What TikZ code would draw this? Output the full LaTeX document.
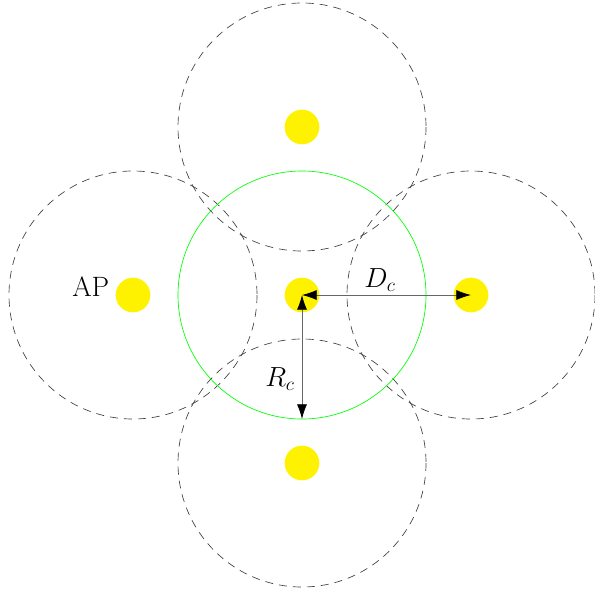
\documentclass[tikz,border=0pt]{standalone}
\usetikzlibrary{arrows.meta}
\begin{document}
\begin{tikzpicture}[x=0.75pt,y=-0.75pt,
  cell/.style={draw=black!75,dash pattern=on 6pt off 4.5pt,line width=0.5pt},
  ap/.style={circle,fill=yellow,minimum size=26pt,inner sep=0pt},
  meas/.style={{Latex[length=11pt,width=7.5pt,black]}-{Latex[length=11pt,width=7.5pt,black]},line width=0.6pt,black!60},
  lbl/.style={font=\fontsize{21}{25}\selectfont}]
\useasboundingbox (0,0) rectangle (595,593);
\draw[cell] (302,127) circle (124);
\draw[cell] (133,295) circle (124);
\draw[cell] (471,295) circle (124);
\draw[cell] (302,463) circle (124);
\draw[green,line width=0.5pt] (302,295) circle (124);
\node[ap] (c) at (302,295) {};
\node[ap] (t) at (302,127) {};
\node[ap] (l) at (133,295) {};
\node[ap] (r) at (471,295) {};
\node[ap] (b) at (302,463) {};
\coordinate (rc) at (302,419);
\draw[meas] (c.center) -- (r.center);
\draw[meas] (rc) -- (c.center);
\node[lbl] (dc) at (380,280) {$D_c$};
\node[lbl] (rcl) at (280,379) {$R_c$};
\node[lbl,anchor=east] (apl) at (114,287) {AP};
\end{tikzpicture}
\end{document}
